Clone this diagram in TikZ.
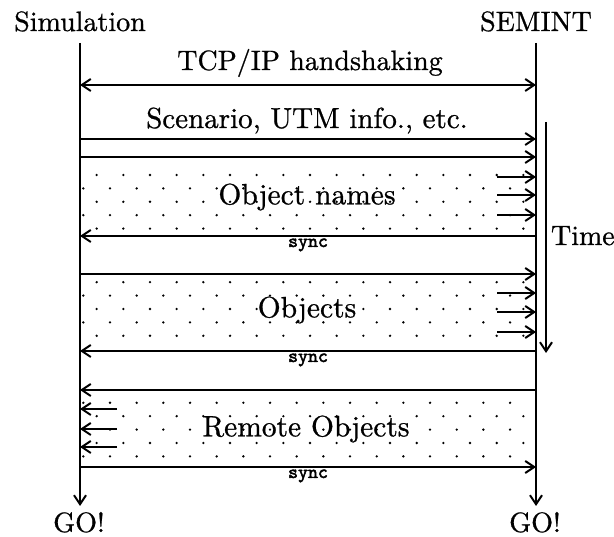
\documentclass[tikz,border=0pt]{standalone}
\usepackage{fontspec}
\usepackage{tikz}
\usetikzlibrary{arrows.meta}
\newfontfamily\lmten[FakeBold=0.8]{lmroman10-regular.otf}
\newfontfamily\synctt[FakeBold=2.5]{lmmono10-regular.otf}

\begin{document}
\begin{tikzpicture}[x=1pt, y=-1pt, line width=2pt,
  >={Straight Barb[length=9pt,width=12pt]},
  lbl/.style={font={\lmten\fontsize{28}{30}\selectfont}, inner sep=0pt},
  boxlbl/.style={font={\lmten\fontsize{29.5}{31}\selectfont}, inner sep=0pt},
  synclbl/.style={font={\synctt\fontsize{19}{19}\selectfont}, inner sep=0pt, anchor=base},
  dot/.style={fill=black}]
\useasboundingbox (0,0) rectangle (614,537);
% dotted bands (one lattice for all three)
\foreach \ka in {0,8,17} {
  \foreach \kb in {0,...,4} {
    \pgfmathtruncatemacro\k{\ka+\kb}
    \pgfmathsetmacro\xo{mod(\k+1,2)*13.33+83.33}
    \pgfmathsetmacro\yo{175+13.4*\k}
    \foreach \m in {0,...,16}
      \fill[dot] (\xo+26.67*\m,\yo) circle (1.3pt);
  }
}
% lifelines
\node[lbl, anchor=base] (sim) at (80,31) {Simulation};
\node[lbl, anchor=base] (sem) at (536,31) {SEMINT};
\coordinate (simtop) at (80,43);
\coordinate (simend) at (80,506);
\coordinate (semtop) at (536,43);
\coordinate (semend) at (536,506);
\draw[->] (simtop) -- (simend);
\draw[->] (semtop) -- (semend);
\node[lbl, anchor=base] (gosim) at (79,532) {GO!};
\node[lbl, anchor=base] (gosem) at (535,532) {GO!};
% messages
\foreach \n/\y in {hs/85, sc/139, on/157, sa/236, ob/274, sb/351, ro/390, sd/467} {
  \coordinate (L\n) at (80,\y);
  \coordinate (R\n) at (536,\y);
}
\draw[<->] (Lhs) -- (Rhs);
\draw[->] (Lsc) -- (Rsc);
\draw[->] (Lon) -- (Ron);
\draw[->] (Rsa) -- (Lsa);
\draw[->] (Lob) -- (Rob);
\draw[->] (Rsb) -- (Lsb);
\draw[->] (Rro) -- (Lro);
\draw[->] (Lsd) -- (Rsd);
\node[lbl, anchor=base] (hstext) at (310,70) {TCP/IP handshaking};
\node[lbl, anchor=base, font={\lmten\fontsize{29}{31}\selectfont}] (sctext) at (307,128) {Scenario, UTM info., etc.};
\node[synclbl] (synca) at (308,247) {sync};
\node[synclbl] (syncb) at (308,362) {sync};
\node[synclbl] (syncd) at (308,478) {sync};
% band labels
\node[boxlbl] (names) at (307,197) {Object names};
\node[boxlbl] (objs) at (307,310) {Objects};
\node[boxlbl] (remote) at (306,429) {Remote Objects};
% short arrows in the bands
\foreach \y [count=\i] in {177,195,215,293,312,332} {
  \coordinate (a\i) at (497,\y);
  \coordinate (b\i) at (536,\y);
  \draw[->] (a\i) -- (b\i);
}
\foreach \y [count=\i] in {409,429,447} {
  \coordinate (c\i) at (117,\y);
  \coordinate (d\i) at (80,\y);
  \draw[->] (c\i) -- (d\i);
}
% time axis
\coordinate (ttop) at (546,122);
\coordinate (tend) at (546,353);
\draw[->] (ttop) -- (tend);
\node[lbl, anchor=base west] (time) at (550,245) {Time};
\end{tikzpicture}
\end{document}
